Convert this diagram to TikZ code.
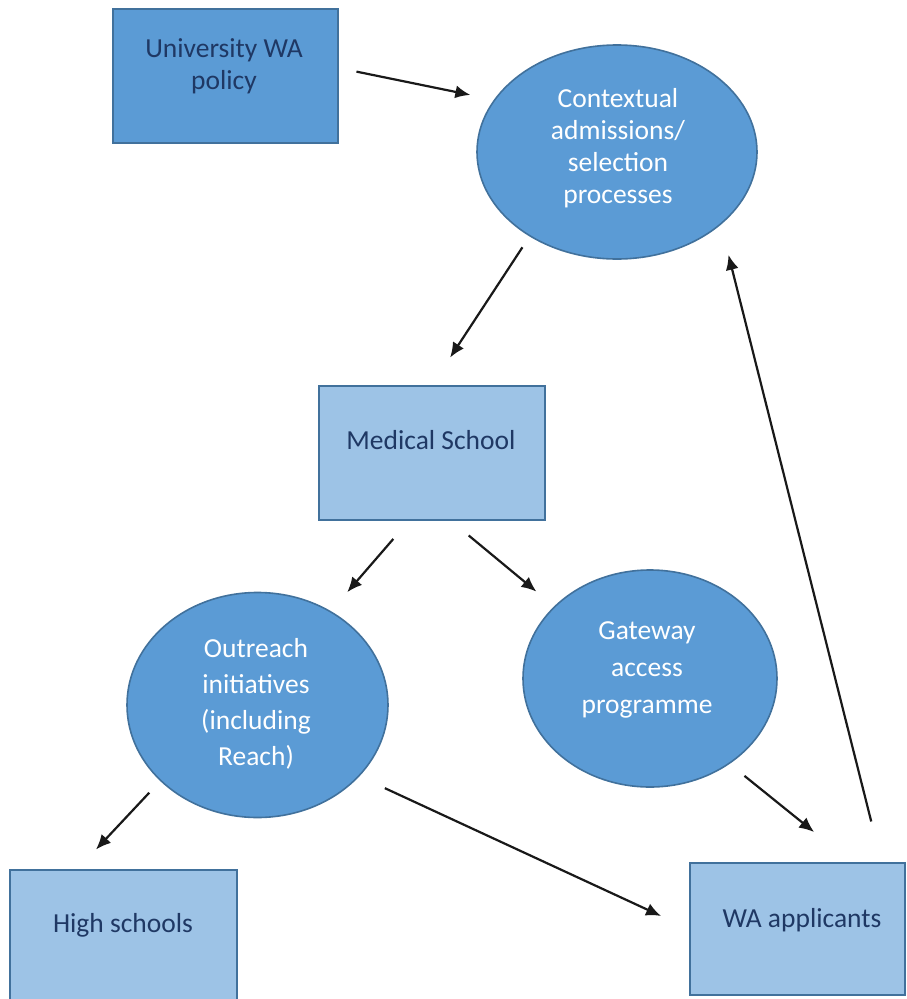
\documentclass[tikz,border=0pt]{standalone}
\usepackage{fontspec}
\setmainfont{Carlito}
\usetikzlibrary{shapes.geometric,arrows.meta}
\definecolor{darkfill}{HTML}{5B9BD5}
\definecolor{lightfill}{HTML}{9DC3E6}
\definecolor{edgeblue}{HTML}{41719C}
\definecolor{navytext}{HTML}{1F3864}
\begin{document}
\begin{tikzpicture}[x=1pt,y=-1pt,
  darkbox/.style={rectangle, draw=edgeblue, fill=darkfill, line width=1.6pt, inner sep=0},
  lightbox/.style={rectangle, draw=edgeblue, fill=lightfill, line width=1.6pt, inner sep=0},
  oval/.style={ellipse, draw=edgeblue, fill=darkfill, line width=1.6pt, inner sep=0},
  boxtext/.style={font=\fontsize{27.5}{32}\selectfont, text=navytext, align=center, inner sep=0},
  ovaltext/.style={font=\fontsize{27.5}{34}\selectfont, text=white, align=center, inner sep=0},
  arr/.style={draw=black!90, line width=2.2pt, -{Latex[length=15pt,width=13pt]}}
]
\useasboundingbox (0,0) rectangle (907,999);

% shapes
\node[darkbox, minimum width=225pt, minimum height=134pt] (u) at (225.5,76) {};
\node[oval, minimum width=280pt, minimum height=214pt] (c) at (617,152) {};
\node[lightbox, minimum width=226pt, minimum height=134pt] (m) at (432,453) {};
\node[oval, minimum width=261pt, minimum height=225pt] (o) at (257.5,705) {};
\node[oval, minimum width=254pt, minimum height=217pt] (g) at (650,678.5) {};
\node[lightbox, minimum width=227pt, minimum height=132pt] (h) at (123.5,936) {};
\node[lightbox, minimum width=215pt, minimum height=132pt] (w) at (797.5,929) {};

% texts
\node[boxtext] (ut) at (224,66) {University WA\\policy};
\node[ovaltext, font=\fontsize{27.5}{32}\selectfont] (ct) at (618,148) {Contextual\\admissions/\\selection\\processes};
\node[boxtext] (mt) at (431,440) {Medical School};
\node[ovaltext, font=\fontsize{27.5}{36}\selectfont] (ot) at (256,704) {Outreach\\initiatives\\(including\\Reach)};
\node[ovaltext, font=\fontsize{27.5}{37}\selectfont] (gt) at (647,670) {Gateway\\access\\programme};
\node[boxtext] (ht) at (123,925) {High schools};
\node[boxtext] (wt) at (802,920) {WA applicants};

% connectors
\draw[arr, shorten <=18pt, shorten >=24pt] ([yshift=8pt]u.east) -- (c.157);
\draw[arr, shorten <=13pt, shorten >=33pt] (c.224) -- (m.north);
\draw[arr, shorten <=24pt, shorten >=25pt] ([xshift=-23pt]m.south) -- (o.52);
\draw[arr, shorten <=23pt, shorten >=23pt] ([xshift=19pt]m.south) -- (g.143);
\draw[arr, shorten <=16pt, shorten >=27pt] (o.218) -- ([xshift=-46pt]h.north);
\draw[arr, shorten <=28pt, shorten >=31pt] (o.325) -- (w.west);
\draw[arr, shorten <=19pt, shorten >=48pt] (g.313) -- ([xshift=54pt]w.north);
\draw[arr, shorten <=42pt, shorten >=31pt] ([xshift=84pt]w.north) -- (c.325);
\end{tikzpicture}
\end{document}
